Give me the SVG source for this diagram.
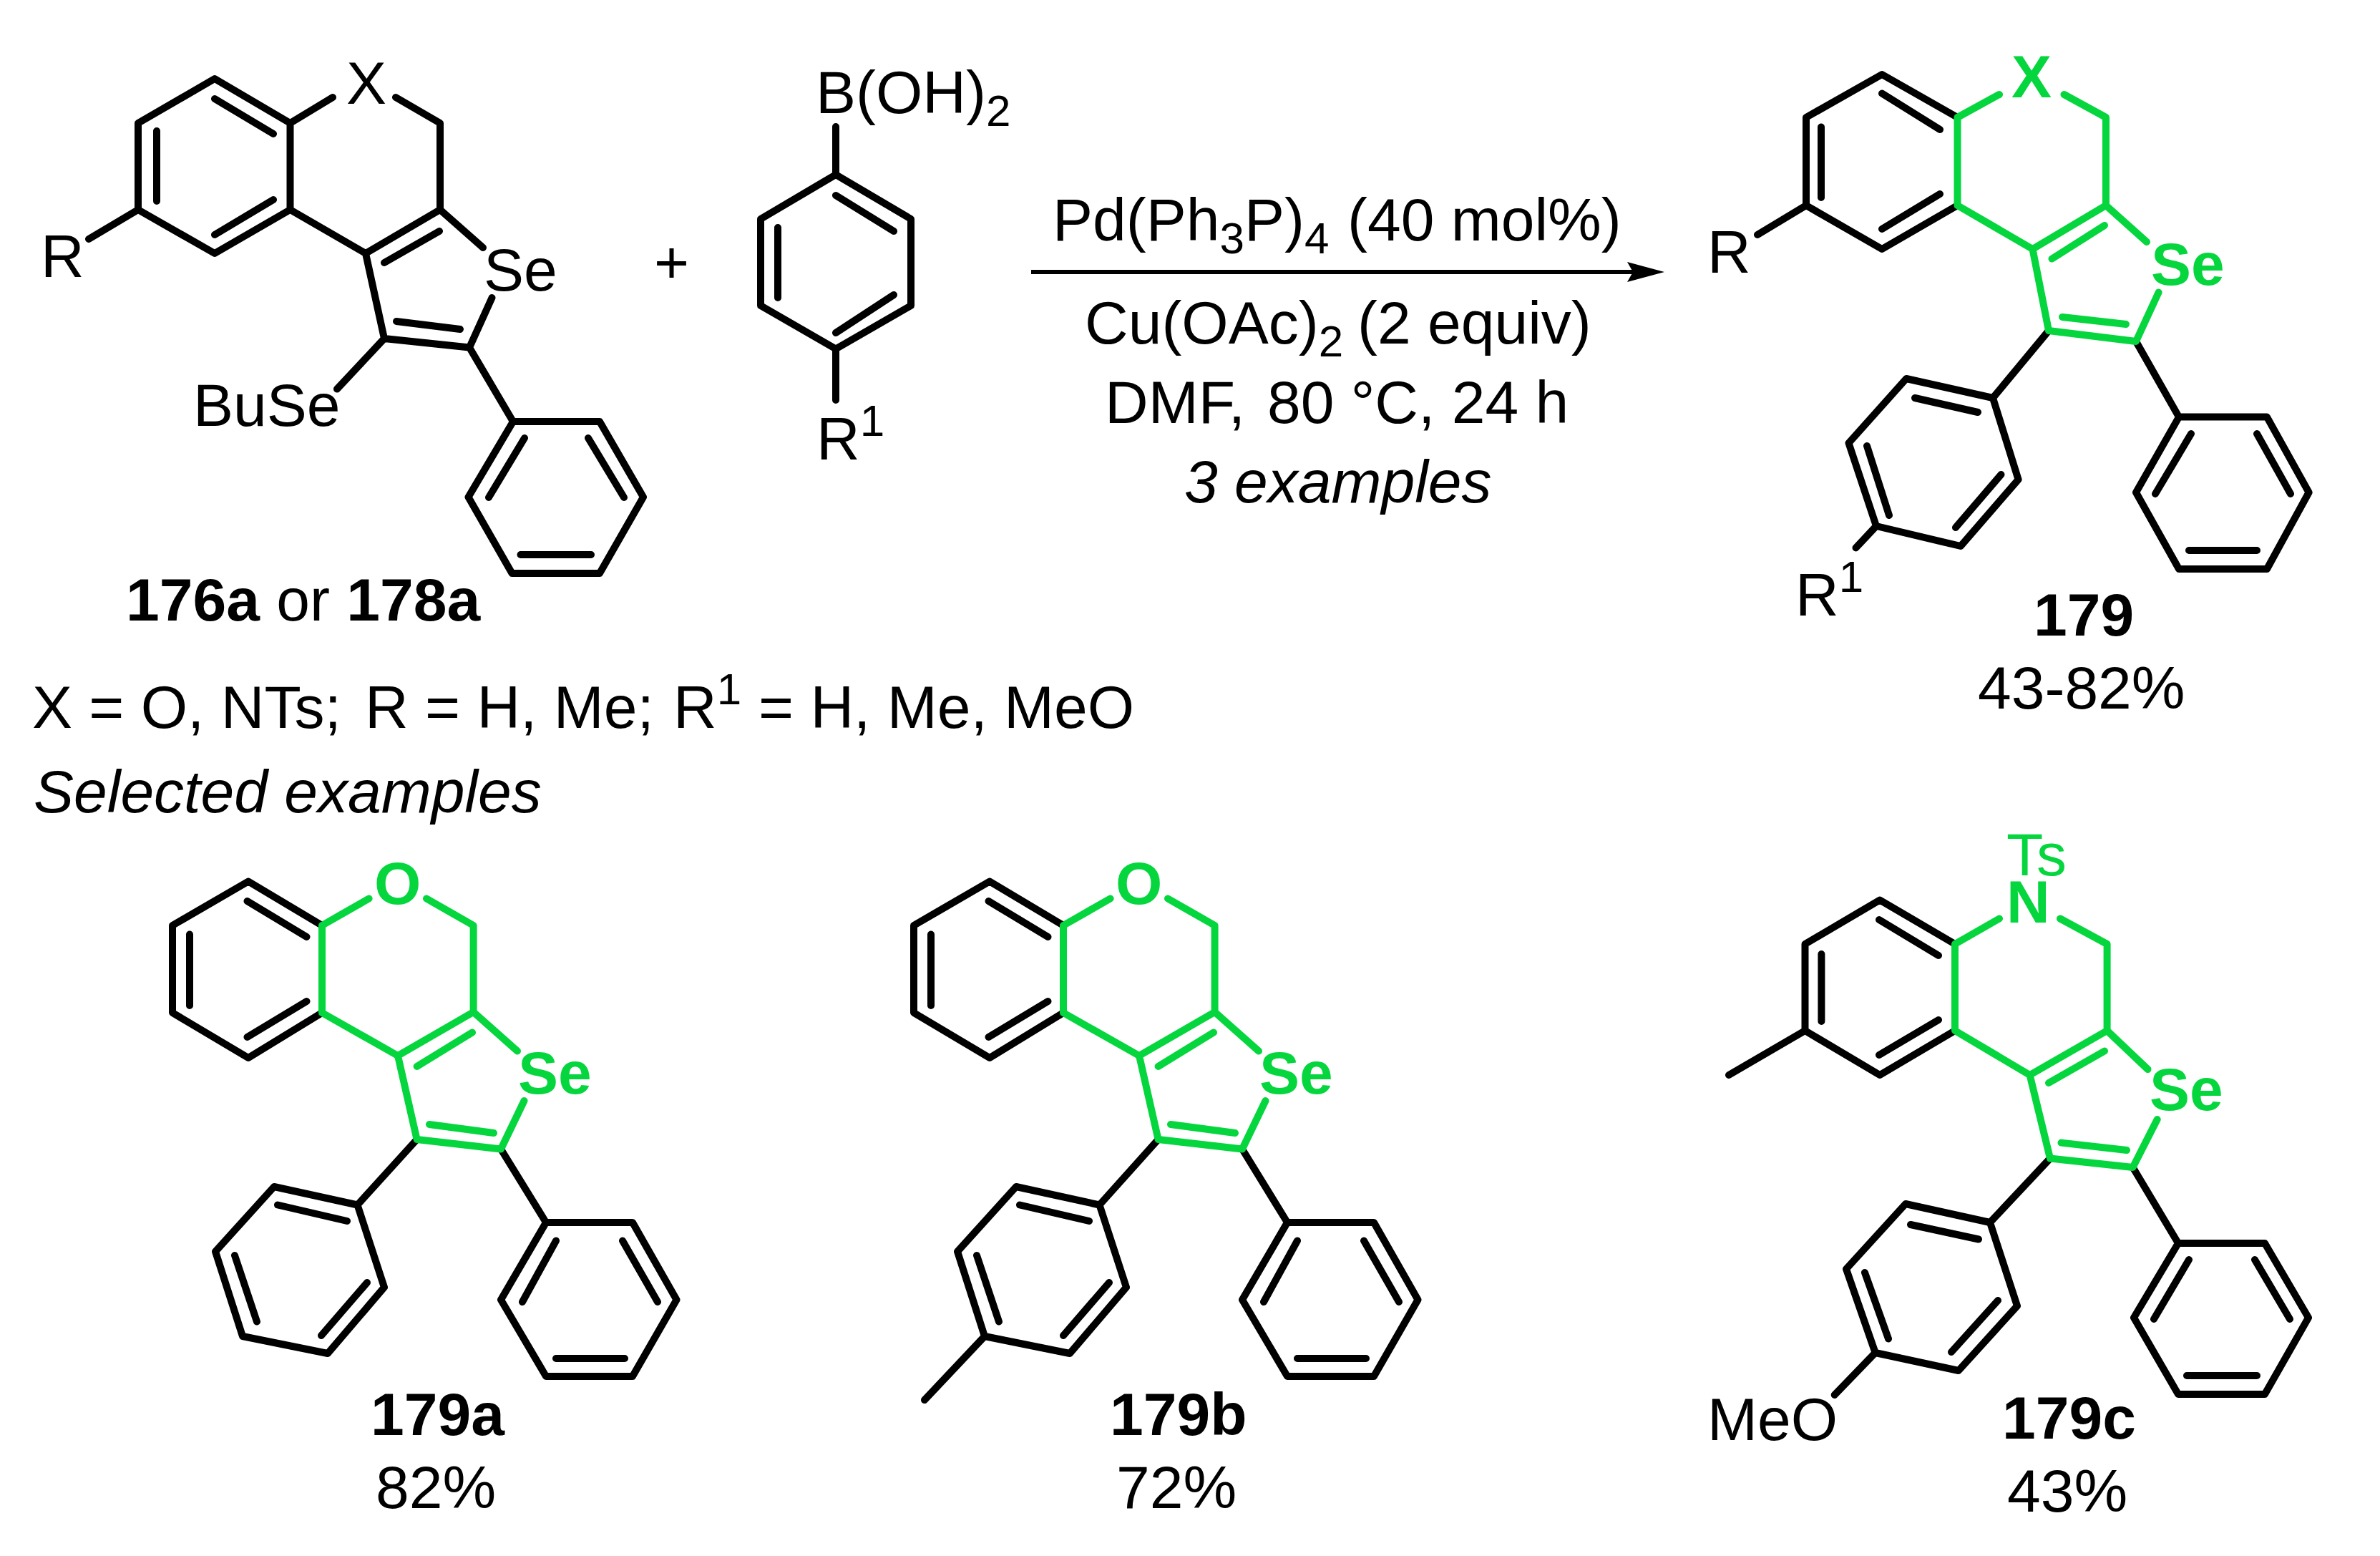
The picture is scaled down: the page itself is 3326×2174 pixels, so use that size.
<svg xmlns="http://www.w3.org/2000/svg" width="3326" height="2174" viewBox="0 0 3326 2174">
<defs><style>
text{font-family:"Liberation Sans",Arial,sans-serif;font-size:84px;fill:#000}
.b{font-weight:bold}.i{font-style:italic}
.sm{font-size:62px}
text.g{fill:#06d63e}
path{fill:none;stroke-linecap:round;stroke-linejoin:round;stroke-width:10px}
.k{stroke:#000}.gr{stroke:#06d63e}
</style>
<marker id="ah" markerUnits="userSpaceOnUse" markerWidth="56" markerHeight="30" refX="26" refY="15" orient="auto"><path d="M0 1L52 15L0 29L8 15Z" style="fill:#000;stroke:none"/></marker>
</defs>
<rect width="3326" height="2174" fill="#fff"/>
<g id="reactant-176a">
<path class="k" d="M405.500 172L300 110L193 172V293L300 354L405.500 293ZM405.500 172L465 136M553 136L615 172V293L675 346M405.500 293L511 354L615 293M511 354L537 473L656 485.500L687.500 416M614 323L537 367M554 449L643 460M300 138L382 187M219 183V281M300 328L382 279M537 473L471 543.500M193 293L124 334M656 485.500L717 589H838L899 694.500L838 801H715.500L654.500 694.500L717 589M733 612L683 695M822 612L872 695M727.500 775H826"/>
<text x="484" y="145">X</text><text x="676" y="406">Se</text><text x="270" y="595">BuSe</text><text x="57" y="387">R</text>
</g>
<text id="plus" x="914" y="395">+</text>
<g id="reagent-boronic">
<path class="k" d="M1168 177V244L1273 306V427L1168 487.500L1063 427V306L1168 244M1168 273L1249 323M1249 412L1168 465M1087 318V416M1168 487.500V559"/>
<text x="1140" y="158">B(OH)<tspan class="sm" dy="18">2</tspan></text>
<text x="1141" y="642">R<tspan class="sm" dy="-33">1</tspan></text>
</g>
<g id="connectors"><path class="k" marker-end="url(#ah)" d="M1441 380H2300" style="stroke-width:6px;stroke-linecap:butt"/></g>
<g id="conditions">
<text x="1471" y="336">Pd(Ph<tspan class="sm" dy="18">3</tspan><tspan dy="-18">P)</tspan><tspan class="sm" dy="18">4</tspan><tspan x="1883" dy="-18">(40 mol%)</tspan></text>
<text x="1516" y="480">Cu(OAc)<tspan class="sm" dy="18">2</tspan><tspan x="1897" dy="-18">(2 equiv)</tspan></text>
<text x="1544" y="591">DMF,<tspan x="1771">80 °C, 24 h</tspan></text>
<text class="i" x="1655" y="702">3 examples</text>
</g>
<g id="product-179">
<path class="k" d="M2735.500 164L2630 104L2524 164V287L2630 348L2735.500 287M2630 130.600L2711 181M2545 177.500V276M2630 320L2711 271M2524 287L2456 328M2863 462L2785 556L2664 529L2583.500 619L2622 735L2740 763L2820.600 670L2785 556M2676 556L2764 576M2609 623L2640 720M2733 737L2796.500 663M2622 735L2593.500 765.400M2985 477L3045 582.600H3168L3226.600 688L3168 795H3045L2985 688L3045 582.600M3062 606L3012 690M3154 606L3201 690M3059 769H3154"/>
<path class="gr" d="M2735.500 164V287L2840.500 348L2943 287V164L2884.500 132M2735.500 164L2794 132M2943 287L3000 338M2840.500 348L2863 462L2985 477L3016.600 408.500M2867.500 361.600L2941 315M2882 443L2971 453"/>
<text class="b g" x="2811" y="136">X</text><text class="b g" x="3006" y="398">Se</text><text x="2386" y="381">R</text>
<text x="2509" y="860">R<tspan class="sm" dy="-33">1</tspan></text>
<text class="b" x="2842" y="888">179</text><text x="2764" y="990">43-82%</text>
</g>
<g id="legend">
<text x="45" y="1017">X = O, NTs;</text>
<text x="510" y="1017">R = H, Me; <tspan x="941">R</tspan><tspan class="sm" dy="-33">1</tspan></text>
<text x="1060" y="1017">= H, Me, MeO</text>
<text class="i" x="47" y="1135">Selected examples</text>
</g>
<text id="label-176a" x="176" y="867"><tspan class="b">176a</tspan> or <tspan class="b">178a</tspan></text>
<g id="compound-179a">
<path class="k" d="M450 1293L347 1231.500L241 1293V1415L347 1478L450 1415M345.500 1259L428.500 1309M265 1305.500V1405M345.500 1449L428.500 1399M582.600 1592L499.500 1683.500L383 1658L301 1748.600L339 1867L458 1891L537 1798.600L499.500 1683.500M388 1683.500L485 1706M328 1754L359 1846.600M449 1866L513 1792M700 1605.500L763 1708H884L945.500 1816L884 1923H763L700 1816L763 1708M777 1733.500L730 1819M870 1733.500L919 1819M777 1898H873"/>
<path class="gr" d="M450 1293V1415L556 1475L661.600 1414V1293L596 1255.500M450 1293L515.600 1255.500M661.600 1414L723 1468.500M556 1475L582.600 1592L700 1605.500L732.500 1538M582.600 1490L660 1442.500M600 1571L690 1583"/>
<text class="b g" x="523" y="1263">O</text><text class="b g" x="724" y="1528">Se</text>
<text class="b" x="518" y="2005">179a</text><text x="525" y="2107">82%</text>
</g>
<g id="compound-179b">
<path class="k" d="M1486 1293L1383 1231.500L1277 1293V1415L1383 1478L1486 1415M1381.500 1259L1464.500 1309M1301 1305.500V1405M1381.500 1449L1464.500 1399M1618.600 1592L1536.500 1683.500L1420 1658L1338 1748.600L1376 1867L1495 1891L1574 1798.600L1536.500 1683.500M1425 1683.500L1522 1706M1365 1754L1396 1846.600M1486 1866L1550 1792M1376 1867L1292 1956M1736 1605.500L1799 1708H1920L1981.500 1816L1920 1923H1799L1736 1816L1799 1708M1813 1733.500L1766 1819M1906 1733.500L1955 1819M1813 1898H1909"/>
<path class="gr" d="M1486 1293V1415L1592 1475L1697.600 1414V1293L1632 1255.500M1486 1293L1551.600 1255.500M1697.600 1414L1759 1468.500M1592 1475L1618.600 1592L1736 1605.500L1768.500 1538M1618.600 1490L1696 1442.500M1636 1571L1726 1583"/>
<text class="b g" x="1559" y="1263">O</text><text class="b g" x="1760" y="1528">Se</text>
<text class="b" x="1551" y="2005">179b</text><text x="1560" y="2107">72%</text>
</g>
<g id="compound-179c">
<path class="k" d="M2732 1319L2627 1257.500L2522.500 1319V1440L2627 1502L2732 1440M2626 1285L2709 1335M2545.400 1333V1427M2626 1474L2709 1425M2522.500 1440L2416 1502M2865 1618.500L2781 1708L2663 1682L2580 1773L2620.700 1890L2737 1915L2819 1824.600L2781 1708M2670 1711L2765 1731.500M2606 1778L2639 1870.500M2727 1889L2792 1817M2620.700 1890L2563.700 1949M2980.600 1631L3044 1737H3165L3226 1841L3165 1948H3044L2982 1841L3044 1737M3059 1760L3010 1843M3151 1760L3200 1843M3056 1922H3154"/>
<path class="gr" d="M2732 1319V1440L2836.600 1502L2944.600 1440V1319L2879 1283.500M2732 1319L2794 1283.500M2944.600 1440L3001.500 1494M2836.600 1502L2865 1618.500L2980.600 1631L3014.700 1564M2863 1513L2941 1468.500M2880.500 1596.600L2972 1607"/>
<text class="g" x="2804" y="1223">Ts</text><text class="b g" x="2804" y="1289">N</text><text class="b g" x="3004" y="1551">Se</text>
<text x="2386" y="2012">MeO</text>
<text class="b" x="2798" y="2010">179c</text><text x="2805" y="2112">43%</text>
</g>
</svg>
